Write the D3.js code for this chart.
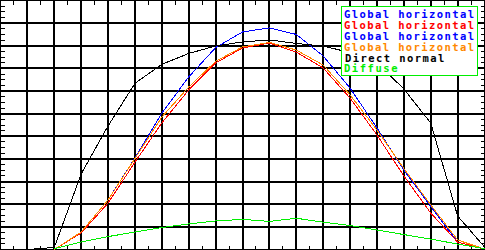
<!DOCTYPE html>
<html>
<head>
<meta charset="utf-8">
<script src="https://cdn.jsdelivr.net/npm/d3@7"></script>
<style>
    body { margin: 0; background: #fff; }
    svg { display: block; }
</style>
</head>
<body>
<div id="chart"></div>
<script>
// Hours of the day (one grid column per hour)
const hours = [3, 4, 5, 6, 7, 8, 9, 10, 11, 12, 13, 14, 15, 16, 17, 18, 19, 20, 21];

// Irradiance series, W/m2 (null = no data)
const globalA  = [null, null, 0, 77, 219, 404, 603, 762, 892, 961, 979, 950, 855, 713, 537, 351, 190, 33, 2];
const globalB  = [null, null, 0, 73, 205, 386, 559, 705, 824, 890, 912, 872, 802, 669, 506, 325, 161, 33, 2];
const globalC  = [null, null, 0, 77, 219, 402, 585, 718, 831, 895, 915, 881, 815, 683, 528, 358, 197, 42, 2];
const globalD  = [null, null, 0, 77, 219, 402, 585, 718, 831, 895, 915, 881, 815, 683, 528, 358, 197, 42, 2];
const direct   = [null, 0, 9, 334, 546, 734, 818, 866, 899, 917, 926, 910, 899, 870, 826, 709, 559, 148, 11];
const diffuse  = [null, null, 4, 33, 57, 77, 97, 113, 126, 133, 124, 138, 121, 106, 86, 66, 46, 24, 4];

const seriesNames  = ["Global horizontal", "Global horizontal", "Global horizontal", "Global horizontal", "Direct normal", "Diffuse"];
const seriesColors = ["#0000ff", "#ff0000", "#0000ff", "#ff8800", "#000000", "#00ee00"];
const seriesValues = [globalA, globalB, globalD, globalC, direct, diffuse];

const width = 485, height = 250;
const svg = d3.select("#chart").append("svg")
    .attr("width", width)
    .attr("height", height);

const x = d3.scaleLinear().domain([3, 21]).range([0.5, 484.5]);
const y = d3.scaleLinear().domain([0, 1100]).range([249.5, 0.5]);

const x0 = x(3), x1 = x(21), y0 = y(0), y1 = y(1100);

// --- Grid (one line per hour, one per 100 W/m2) ---
const majorX = d3.range(4, 21, 1);
const majorY = d3.range(100, 1100, 100);

const grid = svg.append("g")
    .attr("stroke", "#000")
    .attr("stroke-width", 2)
    .attr("shape-rendering", "crispEdges");

grid.selectAll("line.gx")
    .data(majorX)
    .enter().append("line")
    .attr("class", "gx")
    .attr("x1", d => x(d)).attr("x2", d => x(d))
    .attr("y1", y1).attr("y2", y0);

grid.selectAll("line.gy")
    .data(majorY)
    .enter().append("line")
    .attr("class", "gy")
    .attr("x1", x0).attr("x2", x1)
    .attr("y1", d => y(d)).attr("y2", d => y(d));

// --- Minor ticks on all four sides ---
const halfHours = d3.range(3.5, 21, 1);
const quarterY = d3.range(25, 1100, 25).filter(v => v % 100 !== 0);

const ticks = svg.append("g")
    .attr("stroke", "#000")
    .attr("stroke-width", 1)
    .attr("shape-rendering", "crispEdges");

ticks.selectAll("line.tb")
    .data(halfHours)
    .enter().append("line")
    .attr("x1", d => x(d)).attr("x2", d => x(d))
    .attr("y1", y0).attr("y2", y0 - 4);

ticks.selectAll("line.tt")
    .data(halfHours)
    .enter().append("line")
    .attr("x1", d => x(d)).attr("x2", d => x(d))
    .attr("y1", y1).attr("y2", y1 + 4);

ticks.selectAll("line.tl")
    .data(quarterY)
    .enter().append("line")
    .attr("x1", x0).attr("x2", x0 + 4)
    .attr("y1", d => y(d)).attr("y2", d => y(d));

ticks.selectAll("line.tr")
    .data(quarterY)
    .enter().append("line")
    .attr("x1", x1).attr("x2", x1 - 4)
    .attr("y1", d => y(d)).attr("y2", d => y(d));

// Frame
svg.append("rect")
    .attr("x", x0).attr("y", y1)
    .attr("width", x1 - x0).attr("height", y0 - y1)
    .attr("fill", "none")
    .attr("stroke", "#000")
    .attr("shape-rendering", "crispEdges");

// --- Lines ---
const line = d3.line()
    .defined(d => d.v != null)
    .x(d => x(d.h))
    .y(d => y(d.v));

seriesValues.forEach((vals, i) => {
    const pts = hours.map((h, j) => ({h: h, v: vals[j]}));
    svg.append("path")
        .datum(pts)
        .attr("fill", "none")
        .attr("stroke", seriesColors[i])
        .attr("stroke-width", 1)
        .attr("shape-rendering", "crispEdges")
        .attr("d", line);
});

// --- Legend ---
const legend = svg.append("g");
legend.append("rect")
    .attr("x", 341.5).attr("y", 6.5)
    .attr("width", 136).attr("height", 69)
    .attr("fill", "#fff")
    .attr("stroke", "#00ee00")
    .attr("stroke-width", 1)
    .attr("shape-rendering", "crispEdges");

legend.selectAll("text")
    .data(seriesNames)
    .enter()
    .append("text")
    .attr("x", (d, i) => i === 4 ? 345 : 344)
    .attr("y", (d, i) => 18.3 + i * 10.8)
    .attr("textLength", d => d.length * 7.65)
    .attr("lengthAdjust", "spacing")
    .attr("fill", (d, i) => seriesColors[i])
    .style("font-family", "'DejaVu Sans Mono', 'Liberation Mono', monospace")
    .style("font-weight", "bold")
    .style("font-size", "10.5px")
    .text(d => d);
</script>
</body>
</html>
